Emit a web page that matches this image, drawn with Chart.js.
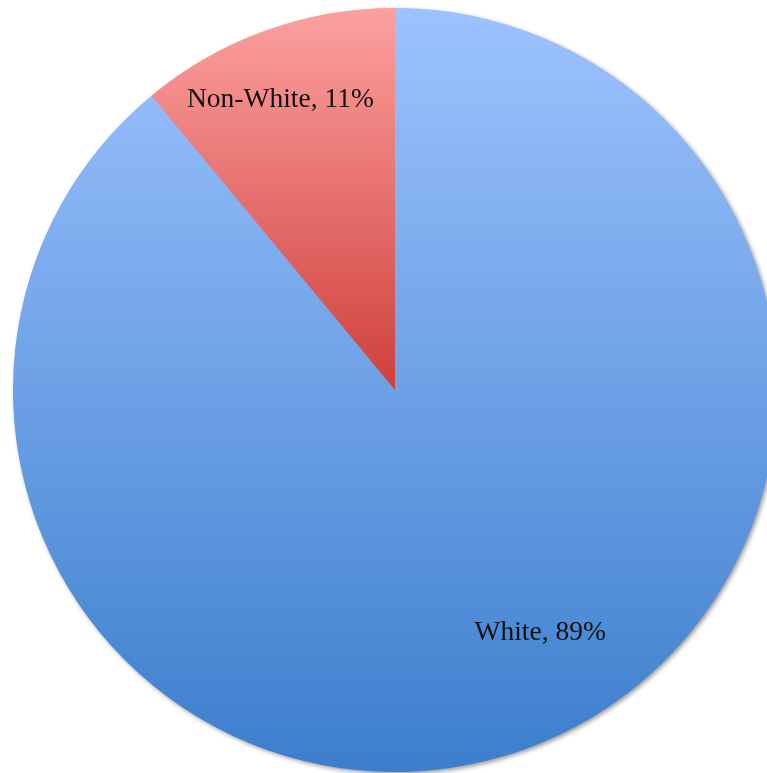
<!DOCTYPE html>
<html>
<head>
<meta charset="utf-8">
<script src="https://cdn.jsdelivr.net/npm/chart.js@4/dist/chart.umd.min.js"></script>
<style>
  html, body { margin: 0; padding: 0; background: #fff; overflow: hidden; }
  #wrap { width: 790px; height: 780px; position: absolute; left: 0; top: 0; }
</style>
</head>
<body>
<div id="wrap"><canvas id="pieChart"></canvas></div>
<script>
const categories = ['White', 'Non-White'];
const shares = [89, 11];
// top / bottom colours of each slice's vertical gradient
const topColors = ['#9dc3ff', '#fca19f'];
const bottomColors = ['#3c7ecd', '#cf3f3c'];
// label placement, in units of the radius, relative to the centre
const labelOffsets = [[0.38, 0.635], [-0.30, -0.76]];

function sliceGradient(context) {
  const chart = context.chart;
  const area = chart.chartArea;
  const i = context.dataIndex;
  if (!area) return topColors[i];
  const cx = (area.left + area.right) / 2;
  const cy = (area.top + area.bottom) / 2;
  const r = Math.min(area.right - area.left, area.bottom - area.top) / 2;
  const total = shares.reduce((a, b) => a + b, 0);
  const before = shares.slice(0, i).reduce((a, b) => a + b, 0);
  const a0 = -Math.PI / 2 + (before / total) * Math.PI * 2;
  const a1 = a0 + (shares[i] / total) * Math.PI * 2;
  // vertical extent of the slice's bounding box
  const ys = [cy, cy + r * Math.sin(a0), cy + r * Math.sin(a1)];
  for (let a = a0; a <= a1; a += 0.005) ys.push(cy + r * Math.sin(a));
  const y0 = Math.min(...ys);
  const y1 = Math.max(...ys);
  const g = chart.ctx.createLinearGradient(0, y0, 0, y1);
  g.addColorStop(0, topColors[i]);
  g.addColorStop(1, bottomColors[i]);
  return g;
}

const shadowPlugin = {
  id: 'shadow',
  beforeDatasetsDraw(chart) {
    const arc = chart.getDatasetMeta(0).data[0];
    if (!arc) return;
    const ctx = chart.ctx;
    ctx.save();
    ctx.shadowColor = 'rgba(0,0,0,0.45)';
    ctx.shadowBlur = 5;
    ctx.shadowOffsetX = 2;
    ctx.shadowOffsetY = 2;
    ctx.fillStyle = '#7faaea';
    ctx.beginPath();
    ctx.arc(arc.x, arc.y, arc.outerRadius - 0.5, 0, Math.PI * 2);
    ctx.fill();
    ctx.restore();
  },
};

const labelPlugin = {
  id: 'sliceLabels',
  afterDatasetsDraw(chart) {
    const ctx = chart.ctx;
    const meta = chart.getDatasetMeta(0);
    ctx.save();
    ctx.font = '27.5px "Liberation Serif", "DejaVu Serif", serif';
    ctx.fillStyle = '#111';
    ctx.textAlign = 'center';
    ctx.textBaseline = 'middle';
    meta.data.forEach((arc, i) => {
      const r = arc.outerRadius;
      const lx = arc.x + labelOffsets[i][0] * r;
      const ly = arc.y + labelOffsets[i][1] * r;
      ctx.fillText(categories[i] + ', ' + shares[i] + '%', lx, ly);
    });
    ctx.restore();
  },
};

function buildPie() {
  const ctx = document.getElementById('pieChart');
  new Chart(ctx, {
    type: 'pie',
    data: {
      labels: categories,
      datasets: [{
        data: shares,
        backgroundColor: sliceGradient,
        borderWidth: 0,
      }],
    },
    options: {
      responsive: true,
      maintainAspectRatio: false,
      animation: false,
      layout: { padding: 8 },
      plugins: { legend: { display: false }, tooltip: { enabled: false } },
    },
    plugins: [shadowPlugin, labelPlugin],
  });
}

document.addEventListener('DOMContentLoaded', buildPie);
</script>
</body>
</html>
